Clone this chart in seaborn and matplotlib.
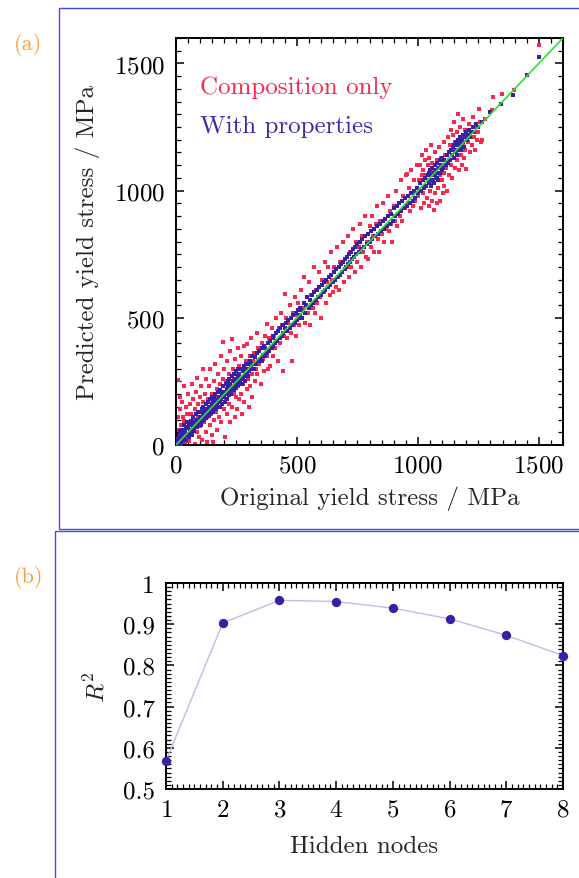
import numpy as np
import pandas as pd
import matplotlib
matplotlib.use('Agg')
import matplotlib.pyplot as plt
from matplotlib.patches import Rectangle
from matplotlib.ticker import MultipleLocator, FixedLocator
import seaborn as sns

# (a) original vs predicted yield stress, MPa
red_pts = [
    (5, 30), (8, 110), (10, 255), (12, 60), (15, 5), (17, 190), (18, 140), (20, 80), (22, 20), (25, 170),
    (28, 110), (30, 45), (32, 230), (35, 95), (38, 10), (40, 150), (42, 70), (45, 120), (48, 30), (50, 200),
    (52, 90), (55, 15), (58, 160), (60, 60), (62, 120), (65, 240), (68, 40), (70, 100), (72, 180), (75, 70),
    (78, 5), (80, 140), (82, 210), (85, 50), (88, 262), (90, 110), (92, 160), (95, 30), (98, 190), (100, 75),
    (102, 130), (105, 230), (108, 20), (110, 170), (113, 299), (115, 90), (118, 140), (120, 200), (122, 50), (125, 260),
    (128, 110), (130, 10), (132, 180), (135, 150), (138, 230), (140, 80), (142, 300), (145, 120), (148, 200), (150, 40),
    (152, 160), (154, 10), (156, 250), (158, 100), (160, 190), (162, 320), (165, 130), (168, 220), (170, 60), (172, 170),
    (175, 280), (178, 110), (180, 240), (182, 150), (185, 350), (188, 90), (190, 200), (193, 260), (196, 403), (198, 140),
    (200, 300), (203, 30), (205, 180), (208, 250), (210, 120), (212, 330), (215, 210), (218, 160), (220, 280), (222, 90),
    (225, 370), (228, 230), (230, 416), (232, 150), (235, 300), (238, 200), (240, 260), (242, 110), (245, 340), (248, 190),
    (250, 280), (252, 140), (255, 380), (258, 230), (260, 310), (262, 180), (265, 260), (268, 350), (270, 200), (272, 120),
    (275, 300), (278, 240), (280, 390), (283, 170), (286, 280), (289, 330), (292, 397), (295, 220), (298, 260), (300, 150),
    (302, 300), (305, 350), (308, 230), (310, 420), (313, 280), (316, 190), (320, 330), (323, 360), (326, 250), (330, 300),
    (333, 440), (336, 280), (340, 380), (345, 320), (350, 240), (355, 400), (360, 340), (365, 290), (370, 430), (375, 476),
    (378, 350), (382, 300), (386, 420), (389, 312), (392, 380), (396, 460), (400, 350),
    (405, 430), (410, 380), (415, 500), (420, 330), (425, 460), (430, 400), (435, 520), (440, 470), (444, 292), (448, 430),
    (451, 594), (455, 500), (460, 420), (465, 480), (470, 550), (474, 440), (478, 331), (482, 520), (486, 470), (490, 580),
    (495, 430), (500, 510),
    (505, 560), (510, 470), (515, 610), (520, 500), (525, 540), (530, 660), (535, 480), (540, 580), (545, 520), (550, 640),
    (555, 470), (560, 590), (565, 540), (570, 700), (575, 520), (580, 610), (585, 560), (590, 680), (595, 580), (600, 500),
    (605, 650), (610, 600), (615, 720), (620, 560), (625, 640), (630, 700), (635, 590), (640, 760), (645, 650), (650, 600),
    (655, 700), (660, 620), (665, 780), (670, 660), (675, 610), (680, 720), (685, 680), (690, 800), (695, 640), (700, 730),
    (705, 700), (710, 820), (715, 660), (720, 760), (725, 700), (730, 850), (735, 740), (740, 680), (745, 800), (750, 720),
    (755, 780), (760, 870), (765, 700), (770, 820), (775, 760), (780, 900), (785, 740), (790, 800), (795, 730), (800, 860),
    (805, 780), (810, 900), (815, 820), (820, 760), (825, 870), (830, 940), (835, 810), (840, 760), (845, 880), (850, 830),
    (855, 950), (860, 800), (865, 890), (870, 850), (875, 980), (880, 840), (885, 920), (890, 870), (895, 800), (900, 940),
    (905, 880), (910, 1000), (915, 860), (920, 950), (925, 900), (930, 1040), (935, 880), (940, 980), (945, 930), (950, 1060),
    (954, 1067), (958, 950), (962, 1010), (966, 920), (970, 1080), (975, 990), (980, 940), (985, 1040), (990, 960), (995, 1100),
    (1000, 980), (1005, 1040), (1010, 1100), (1012, 930), (1015, 1060), (1018, 1140), (1020, 990), (1022, 1080), (1025, 950),
    (1028, 1120), (1030, 1020), (1032, 1160), (1035, 1060), (1038, 970), (1040, 1100), (1042, 1040), (1045, 940), (1048, 1130),
    (1050, 1000), (1052, 1070), (1055, 1180), (1058, 960), (1060, 1110), (1062, 1030), (1065, 923), (1068, 1080), (1070, 1150),
    (1072, 990), (1075, 1050), (1078, 1120), (1080, 950), (1082, 1090), (1085, 1010), (1088, 1170), (1090, 1060), (1092, 960),
    (1095, 1130), (1098, 1040), (1100, 1100), (1103, 990), (1106, 1190), (1108, 1070), (1110, 1020), (1113, 1140), (1116, 1090),
    (1120, 1000), (1124, 1210), (1128, 1120),
    (1130, 1060), (1133, 1180), (1136, 1240), (1138, 1100), (1140, 1160), (1142, 1050), (1145, 1220), (1148, 1130), (1150, 1270),
    (1152, 1190), (1155, 1090), (1158, 1150), (1160, 1230), (1162, 1120), (1165, 1300), (1168, 1200), (1170, 1080), (1172, 1160),
    (1175, 1250), (1178, 1140), (1180, 1210), (1182, 1100), (1185, 1280), (1188, 1180), (1190, 1130), (1193, 1240), (1196, 1160),
    (1200, 1086), (1203, 1220), (1206, 1190), (1210, 1260), (1214, 1150), (1218, 1230), (1222, 1180), (1226, 1290), (1230, 1210),
    (1235, 1160), (1240, 1250), (1244, 1200), (1250, 1230), (1255, 1270), (1260, 1190), (1264, 1198),
    (1278, 1283), (1251, 1322), (1306, 1316), (1310, 1368), (1347, 1381), (1396, 1394), (1499, 1571),
]

blue_pts = [
    (5, 10), (8, 25), (10, 0), (12, 40), (15, 20), (18, 55), (20, 5), (22, 35), (25, 60), (28, 15),
    (30, 45), (32, 80), (35, 30), (38, 55), (40, 20), (40, 70), (42, 45), (45, 90), (48, 40), (50, 65),
    (52, 30), (55, 80), (58, 50), (60, 95), (62, 60), (65, 40), (68, 85), (70, 70), (72, 110), (75, 55),
    (78, 90), (80, 75), (82, 120), (85, 70), (88, 100), (90, 85), (92, 130), (95, 80), (98, 110), (100, 95),
    (102, 130), (105, 80), (106, 110), (106, 140), (108, 95), (110, 120), (112, 150), (115, 100), (118, 135), (120, 115),
    (122, 160), (125, 105), (128, 140), (130, 125), (132, 170), (135, 115), (138, 150), (140, 135), (142, 180), (145, 125),
    (147, 160), (147, 130), (148, 190), (150, 145), (152, 170), (155, 130), (158, 185), (160, 150), (162, 200), (165, 140),
    (168, 175), (170, 160), (172, 210), (175, 150), (178, 190), (180, 170), (182, 215), (182, 150), (185, 180), (190, 200),
    (192, 160), (195, 230), (198, 190), (200, 210),
    (202, 170), (205, 240), (208, 200), (210, 220), (212, 180), (215, 250), (216, 210), (216, 230), (218, 195), (220, 260),
    (222, 215), (225, 240), (228, 200), (230, 270), (232, 225), (235, 250), (238, 215), (240, 280), (242, 235), (245, 260),
    (248, 225), (250, 290), (252, 245), (255, 270), (258, 235), (258, 300), (260, 255), (262, 280), (265, 245), (268, 300),
    (270, 265), (272, 240), (275, 290), (278, 260), (280, 310), (283, 270), (285, 300), (285, 250), (288, 280), (290, 320),
    (292, 275), (295, 300), (298, 270), (300, 320),
    (303, 290), (306, 330), (306, 300), (310, 310), (314, 350), (318, 320), (322, 300), (326, 345), (330, 320), (335, 360),
    (340, 330), (345, 370), (350, 340), (354, 380), (354, 330), (358, 355), (362, 390), (366, 350), (370, 380), (375, 360),
    (380, 400), (385, 370), (390, 410), (395, 380), (400, 420), (403, 390), (403, 430),
    (408, 400), (412, 440), (418, 410), (422, 450), (428, 420), (432, 460), (438, 430), (444, 470), (444, 440), (450, 460),
    (455, 480), (460, 450), (465, 490), (470, 460), (476, 500), (480, 470), (485, 510), (490, 480), (495, 520), (500, 490),
    (505, 530), (510, 500), (513, 540), (513, 510), (518, 530), (522, 500), (528, 560), (532, 520), (538, 550), (542, 580),
    (548, 540), (552, 570), (558, 550), (562, 590), (568, 560), (572, 600), (578, 570), (582, 610), (588, 580), (592, 620),
    (598, 590), (602, 630), (608, 600), (612, 640), (618, 610), (622, 650), (628, 620), (632, 660), (638, 630), (642, 670),
    (648, 640), (652, 680), (658, 650), (662, 690), (668, 660), (672, 700), (678, 670), (682, 710), (688, 680), (692, 720),
    (698, 690), (700, 730), (704, 700), (708, 740), (712, 710), (716, 750), (720, 720), (724, 760), (728, 730), (732, 770),
    (736, 740), (740, 780), (745, 750), (750, 790), (755, 760), (760, 800), (765, 770), (770, 810), (776, 780), (782, 820),
    (788, 790), (794, 830), (800, 800), (806, 840), (812, 810), (818, 850), (824, 820), (830, 860), (836, 830), (842, 870),
    (848, 840), (854, 880), (860, 850), (866, 890), (872, 860), (878, 900), (884, 870), (890, 910), (896, 880), (900, 930),
    (906, 900), (912, 940), (918, 910), (924, 950), (930, 920), (936, 960), (942, 930), (948, 970), (954, 940), (960, 980),
    (966, 950), (972, 990), (978, 960), (984, 1000), (990, 970), (996, 1010),
    (1002, 990), (1008, 1030), (1014, 1000), (1020, 1040), (1024, 1010), (1030, 1050), (1034, 1020), (1040, 1060), (1044, 1030),
    (1046, 1070), (1050, 1040), (1052, 1080), (1055, 1020), (1058, 1060), (1060, 1090), (1062, 1040), (1065, 1070), (1068, 1030),
    (1070, 1100), (1072, 1060), (1075, 1080), (1078, 1050), (1080, 1110), (1082, 1070), (1085, 1040), (1088, 1090), (1090, 1120),
    (1092, 1070), (1095, 1100), (1098, 1080), (1100, 1130), (1105, 1090), (1110, 1120), (1115, 1100), (1120, 1140), (1125, 1110),
    (1130, 1150), (1134, 1120), (1138, 1160), (1142, 1140), (1145, 1170), (1148, 1130), (1150, 1180), (1153, 1150), (1156, 1190),
    (1158, 1160), (1160, 1140), (1163, 1180), (1166, 1200), (1168, 1160), (1170, 1190), (1173, 1170), (1176, 1210), (1178, 1180),
    (1180, 1160), (1183, 1200), (1186, 1220), (1188, 1190), (1190, 1170), (1194, 1210), (1198, 1230), (1202, 1200), (1206, 1220),
    (1210, 1240), (1215, 1210), (1220, 1230), (1226, 1250), (1232, 1230), (1240, 1260), (1248, 1250),
    (1264, 1270), (1300, 1310), (1345, 1340), (1393, 1374), (1450, 1455), (1499, 1525),
]

# (b) R^2 against number of hidden nodes
hidden_nodes = [1, 2, 3, 4, 5, 6, 7, 8]
r2_values = [0.568, 0.903, 0.958, 0.955, 0.939, 0.913, 0.873, 0.824]
r2_ticks = [0.5, 0.6, 0.7, 0.8, 0.9, 1.0]
r2_ticklabels = ['0.5', '0.6', '0.7', '0.8', '0.9', '1']

red_df = pd.DataFrame(red_pts, columns=['orig', 'pred'])
blue_df = pd.DataFrame(blue_pts, columns=['orig', 'pred'])
r2_df = pd.DataFrame({'nodes': hidden_nodes, 'r2': r2_values})

sns.set_theme(style='ticks')
plt.rcParams['font.family'] = ['cmr10', 'DejaVu Serif']
plt.rcParams['mathtext.fontset'] = 'cm'
plt.rcParams['axes.formatter.use_mathtext'] = True
plt.rcParams['font.size'] = 18
plt.rcParams['xtick.labelsize'] = 18
plt.rcParams['ytick.labelsize'] = 18

RED = '#f8284e'
BLUE = '#3b1ea6'
ORANGE = '#f5a035'
FRAME = '#4646ee'

fig = plt.figure(figsize=(5.79, 8.79), dpi=100)

# blue frames round each panel
fig.patches.append(Rectangle((59 / 579, 1 - 530 / 879), 1, 521 / 879, transform=fig.transFigure,
                             fill=False, edgecolor=FRAME, lw=1.0))
fig.patches.append(Rectangle((55 / 579, -0.01), 1, 1 - 532 / 879 + 0.01, transform=fig.transFigure,
                             fill=False, edgecolor=FRAME, lw=1.0))
fig.text(14 / 579, 1 - 45 / 879, '(a)', color=ORANGE, fontsize=16, va='center', ha='left')
fig.text(14 / 579, 1 - 578 / 879, '(b)', color=ORANGE, fontsize=16, va='center', ha='left')


def style_ticks(ax):
    ax.tick_params(which='both', direction='in', top=True, right=True, colors='black', labelsize=18)
    ax.tick_params(which='major', length=6, width=1.1)
    ax.tick_params(which='minor', length=3.5, width=0.9)
    for s in ax.spines.values():
        s.set_linewidth(1.4)
        s.set_color('black')


# panel (a)
ax1 = fig.add_axes([176 / 579, 1 - 446 / 879, 387 / 579, 407 / 879])
sns.scatterplot(data=red_df, x='orig', y='pred', color=RED, marker='s', s=6, linewidth=0,
                ax=ax1, legend=False, zorder=2)
sns.scatterplot(data=blue_df, x='orig', y='pred', color=BLUE, marker='s', s=6, linewidth=0,
                ax=ax1, legend=False, zorder=3)
ax1.plot([0, 1600], [0, 1600], color='#2ee02e', lw=1.2, zorder=4)
ax1.set_xlim(0, 1600)
ax1.set_ylim(0, 1600)
ax1.xaxis.set_major_locator(MultipleLocator(500))
ax1.yaxis.set_major_locator(MultipleLocator(500))
ax1.xaxis.set_minor_locator(MultipleLocator(50))
ax1.yaxis.set_minor_locator(MultipleLocator(50))
style_ticks(ax1)
ax1.tick_params(which='major', axis='y', pad=8)
ax1.tick_params(which='major', axis='x', pad=7)
ax1.set_xlabel('Original yield stress / MPa', fontsize=18, labelpad=6)
ax1.set_ylabel('Predicted yield stress / MPa', fontsize=18, labelpad=10)
ax1.text(0.062, 0.88, 'Composition only', color=RED, fontsize=18, transform=ax1.transAxes, va='center')
ax1.text(0.062, 0.785, 'With properties', color='#4326ac', fontsize=18, transform=ax1.transAxes, va='center')

# panel (b)
ax2 = fig.add_axes([166 / 579, 1 - 790 / 879, 397 / 579, 206 / 879])
sns.lineplot(data=r2_df, x='nodes', y='r2', color='#cbb6e6', lw=1.0, ax=ax2, zorder=2)
sns.scatterplot(data=r2_df, x='nodes', y='r2', color=BLUE, s=45, linewidth=0, ax=ax2,
                legend=False, zorder=3, clip_on=False)
ax2.set_xlim(1, 8)
ax2.set_ylim(0.5, 1.0)
ax2.xaxis.set_major_locator(MultipleLocator(1))
ax2.xaxis.set_minor_locator(MultipleLocator(0.1))
ax2.yaxis.set_major_locator(FixedLocator(r2_ticks))
ax2.set_yticklabels(r2_ticklabels)
ax2.yaxis.set_minor_locator(MultipleLocator(0.01))
style_ticks(ax2)
ax2.tick_params(which='major', axis='y', pad=8)
ax2.tick_params(which='major', axis='x', pad=7)
ax2.set_xlabel('Hidden nodes', fontsize=18, labelpad=10)
ax2.set_ylabel(r'$R^2$', fontsize=18, labelpad=10)

fig.savefig('out.png', dpi=100)
